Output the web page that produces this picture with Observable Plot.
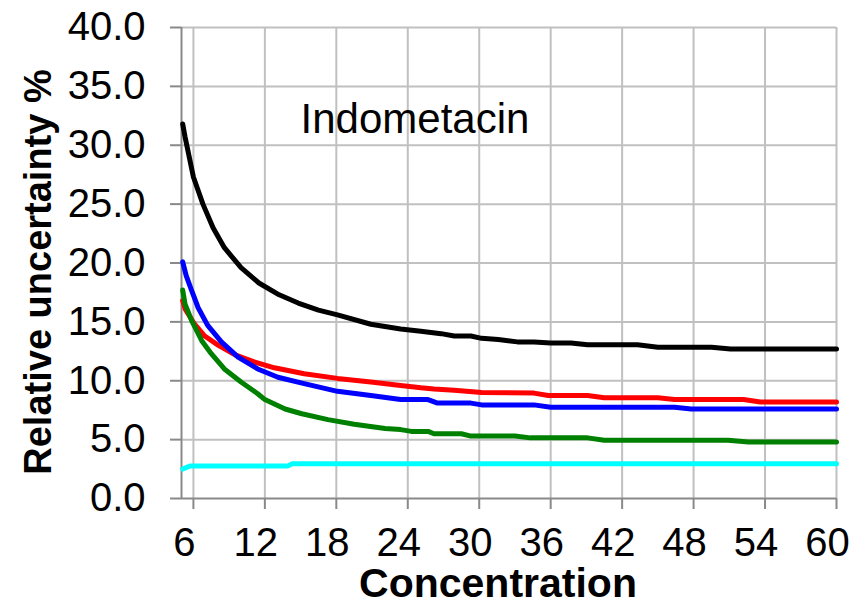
<!DOCTYPE html>
<html>
<head>
<meta charset="utf-8">
<script src="https://cdn.jsdelivr.net/npm/d3@7"></script>
<script src="https://cdn.jsdelivr.net/npm/@observablehq/plot@0.6"></script>
<style>
  html, body { margin: 0; padding: 0; background: #fff; }
  svg { display: block; }
</style>
</head>
<body>
<div id="chart"></div>
<script>
// ---- data ----
const xTicks = [6, 12, 18, 24, 30, 36, 42, 48, 54, 60];
const yTicks = [0, 5, 10, 15, 20, 25, 30, 35, 40];
const chartLabel = "Indometacin";
const xTitle = "Concentration";
const yTitle = "Relative uncertainty %";

const blackX = [5.1, 5.3, 6.0, 6.8, 7.65, 8.6, 10.0, 11.5, 13.2, 14.8, 16.5, 18.1, 20.9, 23.4, 25.1, 26.8, 27.9, 29.3, 30.2, 31.6, 33.2, 34.6, 36.0, 37.7, 39.1, 43.3, 45.0, 49.5, 51.1, 60];
const blackY = [31.8, 30.7, 27.3, 25.0, 23.0, 21.3, 19.6, 18.3, 17.3, 16.6, 16.0, 15.6, 14.8, 14.4, 14.2, 14.0, 13.8, 13.8, 13.6, 13.5, 13.3, 13.3, 13.2, 13.2, 13.05, 13.05, 12.85, 12.85, 12.7, 12.7];

const redX = [5.1, 5.3, 6.1, 6.95, 8.1, 9.5, 11.1, 12.8, 15.3, 18.1, 20.9, 23.4, 25.1, 26.2, 27.9, 30.2, 34.6, 35.8, 39.1, 40.5, 45.0, 46.4, 52.2, 53.6, 60];
const redY = [16.8, 16.1, 14.8, 13.8, 13.0, 12.2, 11.6, 11.1, 10.6, 10.2, 9.9, 9.6, 9.4, 9.3, 9.2, 9.0, 8.95, 8.75, 8.75, 8.55, 8.55, 8.4, 8.4, 8.2, 8.2];

const blueX = [5.1, 5.4, 5.8, 6.4, 7.2, 8.35, 9.75, 11.4, 13.1, 15.3, 18.1, 20.9, 23.4, 25.7, 26.5, 29.3, 30.2, 34.6, 36.0, 46.4, 47.8, 60];
const blueY = [20.1, 18.9, 17.8, 16.2, 14.7, 13.3, 12.0, 11.0, 10.3, 9.75, 9.1, 8.75, 8.4, 8.4, 8.1, 8.1, 7.95, 7.95, 7.75, 7.75, 7.6, 7.6];

const greenX = [5.1, 5.3, 5.85, 6.7, 7.5, 8.6, 10.0, 11.4, 12.0, 13.7, 15.1, 17.3, 19.5, 22.1, 23.4, 24.3, 25.7, 26.2, 28.5, 29.3, 33.0, 34.3, 39.1, 40.5, 50.9, 52.6, 60];
const greenY = [17.7, 16.5, 15.1, 13.4, 12.3, 11.0, 9.9, 8.9, 8.4, 7.6, 7.2, 6.7, 6.3, 5.95, 5.85, 5.7, 5.7, 5.5, 5.5, 5.3, 5.3, 5.15, 5.15, 4.95, 4.95, 4.8, 4.8];

const cyanX = [5.1, 5.7, 13.9, 14.3, 60];
const cyanY = [2.5, 2.75, 2.75, 2.95, 2.95];

const seriesColors = ["#000000", "#ff0000", "#0000ff", "#008000", "#00ffff"];

// ---- build tables ----
const series = [
  [blackX, blackY], [redX, redY], [blueX, blueY], [greenX, greenY], [cyanX, cyanY]
];
const font = "'Liberation Sans', Arial, sans-serif";
const gridColor = "#c0c0c0";
const axisColor = "#898989";

const lineMarks = series.map(([xs, ys], i) =>
  Plot.line(xs.map((x, j) => ({x, y: ys[j]})), {
    x: "x", y: "y", stroke: seriesColors[i], strokeWidth: 5,
    strokeLinejoin: "round", strokeLinecap: "round"
  })
);

const chart = Plot.plot({
  width: 852,
  height: 606,
  marginLeft: 181,
  marginRight: 16,
  marginTop: 27,
  marginBottom: 108,
  style: {fontFamily: font, background: "#fff", color: "#000", overflow: "visible"},
  x: {domain: [5, 60]},
  y: {domain: [0, 40]},
  marks: [
    Plot.gridX(xTicks, {stroke: gridColor, strokeOpacity: 1, strokeWidth: 2}),
    Plot.gridY(yTicks.filter(d => d > 0), {stroke: gridColor, strokeOpacity: 1, strokeWidth: 2}),
    Plot.axisX(xTicks, {tickSize: 11, text: null, stroke: axisColor, strokeWidth: 2, label: null}),
    Plot.axisX(xTicks, {tickSize: 0, tickPadding: 29, dx: -9, fontSize: 40, fill: "#000", label: null}),
    Plot.axisY(yTicks, {tickSize: 11, tickPadding: 25, fontSize: 40, stroke: axisColor, strokeWidth: 2, fill: "#000", tickFormat: d => d.toFixed(1), label: null}),
    Plot.ruleY([0], {stroke: axisColor, strokeWidth: 2}),
    Plot.ruleX([5], {stroke: axisColor, strokeWidth: 2}),
    ...lineMarks,
    Plot.text([chartLabel], {x: 15.0, y: 32.2, text: d => d, textAnchor: "start", lineAnchor: "middle", fontSize: 42, fill: "#000"}),
    Plot.text([xTitle], {frameAnchor: "bottom", textAnchor: "middle", dx: -11, dy: 85, text: d => d, lineAnchor: "middle", fontSize: 41, fontWeight: "bold", fill: "#000"}),
    Plot.text([yTitle], {frameAnchor: "left", textAnchor: "middle", dx: -143, dy: 9, rotate: -90, text: d => d, lineAnchor: "middle", fontSize: 38, fontWeight: "bold", fill: "#000"})
  ]
});
document.getElementById("chart").appendChild(chart);
</script>
</body>
</html>
